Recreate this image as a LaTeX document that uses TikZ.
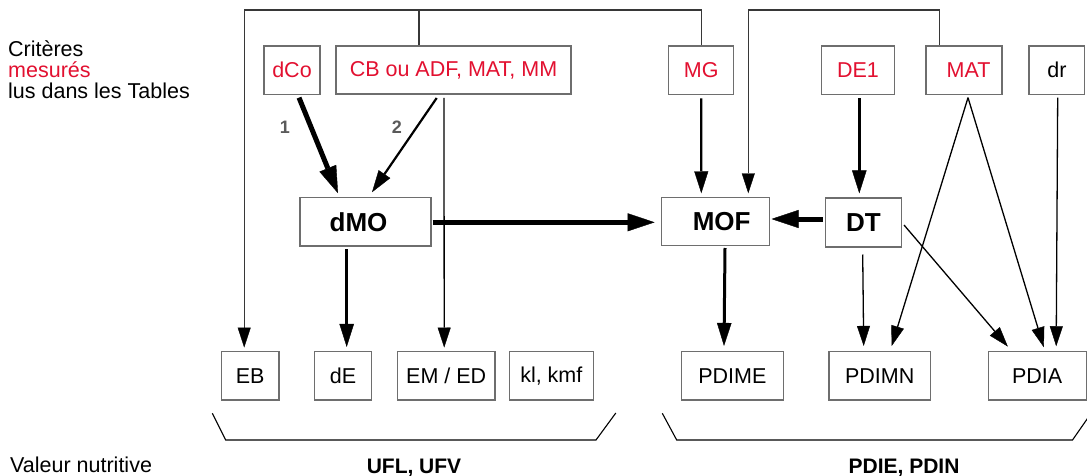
\documentclass[tikz,border=0pt]{standalone}
\usepackage{fontspec}
\setmainfont{Liberation Sans}
\usetikzlibrary{arrows.meta,calc}
\definecolor{critred}{RGB}{226,16,48}
\definecolor{boxgray}{RGB}{110,110,110}
\definecolor{numgray}{RGB}{90,90,90}
\definecolor{linegray}{RGB}{55,55,55}
\begin{document}
\begin{tikzpicture}[x=1pt,y=-1pt,
  box/.style={draw=boxgray, line width=1.4pt, inner sep=0pt, text=black,
    font=\fontsize{21.5}{25}\selectfont},
  redtxt/.style={text=critred},
  big/.style={font=\bfseries\fontsize{26}{31}\selectfont},
  lbl/.style={inner sep=0pt, font=\fontsize{21.5}{25}\selectfont},
  bottomlbl/.style={inner sep=0pt, font=\bfseries\fontsize{21}{25}\selectfont},
  numlbl/.style={inner sep=0pt, text=numgray, font=\bfseries\fontsize{18}{21}\selectfont},
  thinarr/.style={draw=black, line width=1.3pt, -{Triangle[length=20pt,width=13pt,line width=0.4pt]}},
  topline/.style={draw=linegray, line width=1.4pt},
  toparr/.style={draw=linegray, line width=1.4pt, -{Triangle[length=20pt,width=13pt,line width=0.4pt,color=black]}},
  medarr/.style={draw=black, line width=2.2pt, -{Triangle[length=22pt,width=14pt,line width=0.4pt]}},
  midarr/.style={draw=black, line width=3pt, -{Triangle[length=23pt,width=14.5pt,line width=0.4pt]}},
  bigarr/.style={draw=black, line width=5pt, -{Triangle[length=27pt,width=18pt,line width=0.4pt]}},
  bracket/.style={draw=black, line width=1.1pt}
]
\useasboundingbox (0,0) rectangle (1087,476);

% left texts
\node[lbl, anchor=base west] (crit) at (8,56.7) {Critères};
\node[lbl, anchor=base west, text=critred] (mes) at (8,77.8) {mesurés};
\node[lbl, anchor=base west] (lus) at (8,98.3) {lus dans les Tables};
\node[lbl, anchor=base west] (val) at (10,472.5) {Valeur nutritive};

% top row
\node[box, redtxt, minimum width=55.7pt, minimum height=48.7pt] (dCo) at (292,70.3) {dCo};
\node[box, redtxt, minimum width=235pt, minimum height=48pt] (CB) at (453.5,70) {CB ou ADF, MAT, MM};
\node[box, redtxt, minimum width=65pt, minimum height=48.7pt] (MG) at (701.2,70.3) {MG};
\node[box, redtxt, minimum width=73.4pt, minimum height=48.7pt] (DE1) at (858,70.3) {DE1};
\node[box, redtxt, minimum width=76pt, minimum height=48.7pt] (MAT) at (964,70.3) {\hspace*{9pt}MAT};
\node[box, minimum width=55.7pt, minimum height=48.7pt] (dr) at (1056.9,70.3) {dr};

% middle row
\node[box, big, minimum width=131pt, minimum height=48.3pt] (dMO) at (365.5,221.8) {\hspace*{-14pt}dMO};
\node[box, big, minimum width=108pt, minimum height=47.6pt] (MOF) at (715.3,221.5) {\hspace*{12.8pt}MOF};
\node[box, big, minimum width=76.4pt, minimum height=49pt] (DT) at (863.5,222.3) {DT};

% bottom row
\node[box, minimum width=57.7pt, minimum height=48.3pt] (EB) at (250.2,375.8) {EB};
\node[box, minimum width=56.6pt, minimum height=48.3pt] (dE) at (343,375.8) {dE};
\node[box, minimum width=97.7pt, minimum height=48.3pt] (EMED) at (446.2,375.8) {EM / ED};
\node[box, minimum width=84pt, minimum height=48.3pt] (klkmf) at (551.3,375.8) {kl, kmf};
\node[box, minimum width=102pt, minimum height=48.3pt] (PDIME) at (732.3,375.8) {PDIME};
\node[box, minimum width=101.3pt, minimum height=48.3pt] (PDIMN) at (879.7,375.8) {PDIMN};
\node[box, minimum width=98pt, minimum height=48.3pt] (PDIA) at (1037.2,375.8) {PDIA};

% number labels
\node[numlbl] (n1) at (285,127) {1};
\node[numlbl] (n2) at (397,127) {2};

% top routing lines
\draw[toparr] (MG.north) -- ++(0,-35.3) -| ($(EB.north)+(-6,-3.4)$);
\draw[topline] ($(CB.north)+(-34.5,0)$) -- ++(0,-35.3);
\draw[toparr] ($(MAT.north)+(-24.3,0)$) -- ++(0,-35.3) -| ($(MOF.north)+(33,-3.7)$);

% arrows
\draw[bigarr] ($(dCo.south)+(7,2.3)$) -- ($(dMO.north)+(-27.5,-3.7)$);
\draw[medarr] ($(CB.south)+(-16.8,3.3)$) -- ($(dMO.north)+(6.5,-4.7)$);
\draw[thinarr] ($(CB.south)+(-9.5,3.3)$) -- ($(EMED.north)+(-2,-3.4)$);
\draw[medarr] ($(MG.south)+(0,3)$) -- ($(MOF.north)+(-14,-3.7)$);
\draw[midarr] ($(DE1.south)+(1.3,3)$) -- ($(DT.north)+(-4.2,-3.7)$);
\draw[bigarr] ($(DT.west)+(-2,-3.3)$) -- ($(MOF.east)+(1.5,-2.5)$);
\draw[bigarr] ($(dMO.east)+(1,0.5)$) -- ($(MOF.west)+(-6,0.8)$);
\draw[midarr] ($(dMO.south)+(-18.8,2.5)$) -- ($(dE.north)+(3.7,-4)$);
\draw[midarr] ($(MOF.south)+(9.7,2)$) -- ($(PDIME.north)+(-8.3,-5)$);
\draw[thinarr] ($(DT.south)+(-0.8,7)$) -- ($(PDIMN.north)+(-16,-5)$);
\draw[thinarr] ($(MAT.south)+(4,2.3)$) -- ($(PDIMN.north)+(12,-5)$);
\draw[thinarr] ($(MAT.south)+(4,2.3)$) -- ($(PDIA.north)+(6.6,-3.7)$);
\draw[thinarr] ($(DT.east)+(1.6,2.7)$) -- ($(PDIA.north)+(-29.4,-4.4)$);
\draw[thinarr] ($(dr.south)+(0.8,2.3)$) -- ($(PDIA.north)+(19,-4.7)$);

% brackets
\draw[bracket] (212.3,413.3) -- (225.7,440) -- (596,440) -- (615.8,413);
\draw[bracket] (662.3,413.3) -- (676.7,440) -- (1072.5,440) -- (1092,412);

% bottom labels
\node[bottomlbl, anchor=base] (ufl) at (414,473) {UFL, UFV};
\node[bottomlbl, anchor=base] (pdie) at (904,473) {PDIE, PDIN};
\end{tikzpicture}
\end{document}
